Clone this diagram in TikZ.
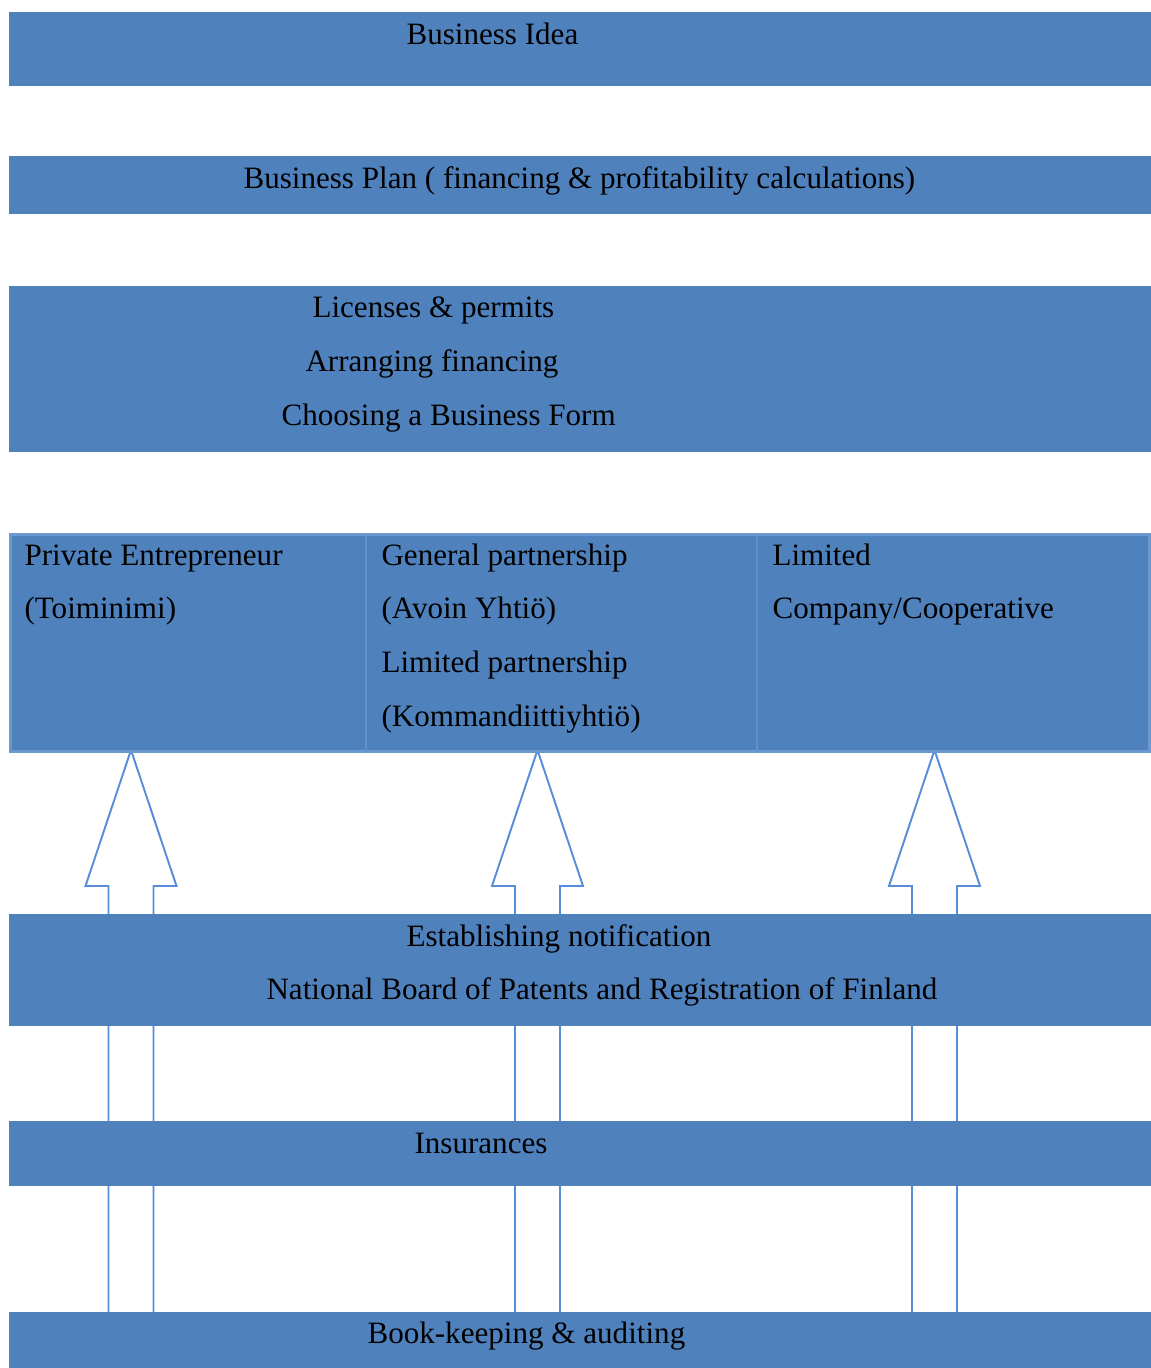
\documentclass[tikz,border=0pt]{standalone}
\usepackage{fontspec}
\setmainfont{Liberation Serif}
\usetikzlibrary{fit,calc,backgrounds}
\definecolor{barblue}{RGB}{79,129,189}
\definecolor{baredge}{RGB}{108,152,208}
\definecolor{cellline}{RGB}{98,144,200}
\definecolor{arrowblue}{RGB}{88,141,218}

\begin{document}
\begin{tikzpicture}[x=0.386pt,y=-0.386pt,
  bar/.style={fill=barblue,inner sep=0pt,outer sep=0pt},
  bartext/.style={anchor=base west,inner sep=0pt,font=\fontsize{12pt}{14pt}\selectfont},
  hollow arrow/.style={draw=arrowblue,fill=white,line width=0.75pt,line join=miter,miter limit=20}]
  \useasboundingbox (0,0) rectangle (1151,1368);

  % the bars, top to bottom
  \node[bar,fit={(9,12) (1151,86)}] (idea) {};
  \node[bar,fit={(9,156) (1151,214)}] (plan) {};
  \node[bar,fit={(9,286) (1151,452)}] (permits) {};
  \node[bar,draw=baredge,line width=1.1pt,fit={(10.5,534.5) (1149.5,751.5)}] (forms) {};
  \node[bar,fit={(9,914) (1151,1026)}] (notify) {};
  \node[bar,fit={(9,1121) (1151,1186)}] (insure) {};
  \node[bar,fit={(9,1312) (1151,1368)}] (books) {};

  \draw[cellline,line width=0.4pt] (forms.north -| 366,0) -- (forms.south -| 366,0);
  \draw[cellline,line width=0.4pt] (forms.north -| 757,0) -- (forms.south -| 757,0);

  % texts
  \node[bartext] (ideatxt) at (406,44) {Business Idea};
  \node[bartext] (plantxt) at (243,188) {Business Plan ( financing \& profitability calculations)};
  \node[bartext] (lic) at (312,317) {Licenses \& permits};
  \node[bartext] (fin) at (305,371) {Arranging financing};
  \node[bartext] (form) at (281,425) {Choosing a Business Form};

  \node[bartext] (priv) at (24,565) {Private Entrepreneur};
  \node[bartext] (privfi) at (24,618) {(Toiminimi)};
  \node[bartext] (gen) at (381,565) {General partnership};
  \node[bartext] (genfi) at (381,618) {(Avoin Yhtiö)};
  \node[bartext] (lim) at (381,672) {Limited partnership};
  \node[bartext] (limfi) at (381,726) {(Kommandiittiyhtiö)};
  \node[bartext] (ltd) at (772,565) {Limited};
  \node[bartext] (coop) at (772,618) {Company/Cooperative};

  \node[bartext] (est) at (406,946) {Establishing notification};
  \node[bartext] (prh) at (266,999) {National Board of Patents and Registration of Finland};
  \node[bartext] (instxt) at (414,1153) {Insurances};
  \node[bartext] (bookstxt) at (367,1343) {Book-keeping \& auditing};

  % block arrows running behind the bars
  \begin{scope}[on background layer]
    \foreach \i/\cx in {1/131,2/537.5,3/934.5}{
      \coordinate (tip\i) at (\cx,750);
      \coordinate (foot\i) at (books.north -| tip\i);
      \draw[hollow arrow] ($(foot\i)+(-22.5,0)$) |- ($(tip\i)+(-45.5,136)$)
        -- (tip\i) -- ($(tip\i)+(45.5,136)$) -| ($(foot\i)+(22.5,0)$);
    }
  \end{scope}
\end{tikzpicture}
\end{document}
